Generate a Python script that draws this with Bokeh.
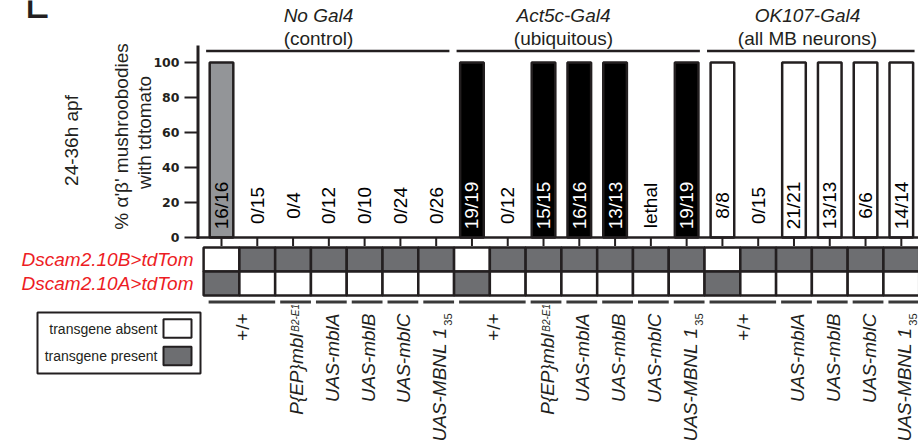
import math
from bokeh.plotting import figure
from bokeh.models import Range1d
from bokeh.core.properties import value
from bokeh.embed import file_html
from bokeh.resources import INLINE

# ---------------- data ----------------
panel_letter = "L"
stage_label = "24-36h apf"
y_title_lines = ["% \u03b1'\u03b2' mushroobodies", "with tdtomato"]
group_titles = ["No Gal4", "Act5c-Gal4", "OK107-Gal4"]
group_subtitles = ["(control)", "(ubiquitous)", "(all MB neurons)"]
group_sizes = [7, 7, 6]
pct_with_tdtomato = [100, 0, 0, 0, 0, 0, 0,
                     100, 0, 100, 100, 100, None, 100,
                     100, 0, 100, 100, 100, 100]
count_labels = ["16/16", "0/15", "0/4", "0/12", "0/10", "0/24", "0/26",
                "19/19", "0/12", "15/15", "16/16", "13/13", "lethal", "19/19",
                "8/8", "0/15", "21/21", "13/13", "6/6", "14/14"]
y_ticks = [0, 20, 40, 60, 80, 100]
reporter_rows = ["Dscam2.10B>tdTom", "Dscam2.10A>tdTom"]
reporter_10B_present = [0, 1, 1, 1, 1, 1, 1, 0, 1, 1, 1, 1, 1, 1, 0, 1, 1, 1, 1, 1]
reporter_10A_present = [1, 0, 0, 0, 0, 0, 0, 1, 0, 0, 0, 0, 0, 0, 1, 0, 0, 0, 0, 0]
genotype_names = ["+/+", "P{EP}mbl", "UAS-mblA", "UAS-mblB", "UAS-mblC", "UAS-MBNL 1",
                  "+/+", "P{EP}mbl", "UAS-mblA", "UAS-mblB", "UAS-mblC", "UAS-MBNL 1",
                  "+/+", "UAS-mblA", "UAS-mblB", "UAS-mblC", "UAS-MBNL 1"]
genotype_superscripts = ["", "B2-E1", "", "", "", "",
                         "", "B2-E1", "", "", "", "",
                         "", "", "", "", ""]
genotype_subscripts = ["", "", "", "", "", "35",
                       "", "", "", "", "", "35",
                       "", "", "", "", "35"]
genotype_first_col = [0, 2, 3, 4, 5, 6, 7, 9, 10, 11, 12, 13, 14, 16, 17, 18, 19]
genotype_last_col = [1, 2, 3, 4, 5, 6, 8, 9, 10, 11, 12, 13, 15, 16, 17, 18, 19]
legend_labels = ["transgene absent", "transgene present"]

# ---------------- layout / style ----------------
FONT = "Liberation Sans"
BLACK = "#231f20"
GROUP_FILL = ["#939598", "#000000", "#ffffff"]
GROUP_TEXT = ["#000000", "#ffffff", "#000000"]
CELL_GRAY = "#6d6e71"
RED = "#ed1c24"
W, H = 918, 445
X0, S = 221.0, 35.78     # pixel of first column, pixels per column
Y0, PPU = 237.0, 1.75    # pixel of value 0, pixels per percent


def cx(px):
    return (px - X0) / S


def vy(py):
    return (Y0 - py) / PPU


p = figure(width=W, height=H, output_backend="svg", toolbar_location=None,
           x_range=Range1d(cx(0), cx(W)),
           y_range=Range1d(vy(H), vy(0)),
           x_axis_type=None, y_axis_type=None, min_border=0,
           outline_line_color=None, background_fill_color="white",
           border_fill_color="white")
p.grid.visible = False

n = len(count_labels)
cols = list(range(n))
grp = []
for gi, sz in enumerate(group_sizes):
    grp += [gi] * sz

# ---- bars ----
bx, btop, bfill = [], [], []
for i in cols:
    v = pct_with_tdtomato[i]
    if v is not None and v > 0:
        bx.append(i)
        btop.append(v)
        bfill.append(GROUP_FILL[grp[i]])
p.vbar(x=bx, top=btop, bottom=0, width=0.66, fill_color=bfill,
       line_color=BLACK, line_width=2.5)

# bar count labels
lab_col = []
for i in cols:
    v = pct_with_tdtomato[i]
    lab_col.append(GROUP_TEXT[grp[i]] if (v is not None and v > 0) else "#000000")
p.text(x=cols, y=[vy(205)] * n, text=count_labels, angle=math.pi / 2,
       text_align="center", text_baseline="middle", text_color=lab_col,
       text_font=value(FONT), text_font_size=value("19px"))

# ---- y axis ----
p.segment(x0=[cx(197.5)], y0=[vy(45)], x1=[cx(197.5)], y1=[vy(238.5)],
          line_color=BLACK, line_width=3)
p.segment(x0=[cx(184)] * len(y_ticks), y0=y_ticks, x1=[cx(197)] * len(y_ticks),
          y1=y_ticks, line_color=BLACK, line_width=2.2)
p.text(x=[cx(179)] * len(y_ticks), y=y_ticks, text=[str(t) for t in y_ticks],
       text_align="right", text_baseline="middle", text_color=BLACK,
       text_font=value("DejaVu Sans"), text_font_style="bold",
       text_font_size=value("12.5px"))

# ---- x baseline + ticks ----
p.segment(x0=[cx(196)], y0=[0], x1=[cx(W + 5)], y1=[0],
          line_color=BLACK, line_width=2.5)
p.segment(x0=cols, y0=[0] * n, x1=cols, y1=[vy(245.5)] * n,
          line_color=BLACK, line_width=2)

# ---- axis titles ----
p.text(x=[cx(120.5), cx(143.5)], y=[vy(136), vy(132)], text=y_title_lines,
       angle=math.pi / 2, text_align="center", text_baseline="middle",
       text_color=BLACK, text_font=value(FONT), text_font_size=value("19px"))
p.text(x=[cx(71)], y=[vy(140)], text=[stage_label], angle=math.pi / 2,
       text_align="center", text_baseline="middle", text_color=BLACK,
       text_font=value(FONT), text_font_size=value("19px"))

# panel letter (mostly cropped at the top edge, as in the source)
p.text(x=[cx(24)], y=[vy(1.5)], text=[panel_letter], text_align="left",
       text_baseline="middle", text_color=BLACK,
       text_font=value(FONT), text_font_size=value("44px"))

# ---- group headers ----
GROUP_TITLE_PX = [318, 563, 807]
starts, ends = [], []
c = 0
for sz in group_sizes:
    starts.append(c)
    ends.append(c + sz - 1)
    c += sz
p.segment(x0=[s - 0.43 for s in starts], y0=[vy(50.5)] * 3,
          x1=[e + 0.37 for e in ends], y1=[vy(50.5)] * 3,
          line_color=BLACK, line_width=2.5)
p.text(x=[cx(v) for v in GROUP_TITLE_PX], y=[vy(14.5)] * 3, text=group_titles,
       text_align="center", text_baseline="middle", text_color=BLACK,
       text_font=value(FONT), text_font_style="italic",
       text_font_size=value("19px"))
p.text(x=[cx(v) for v in GROUP_TITLE_PX], y=[vy(37.5)] * 3, text=group_subtitles,
       text_align="center", text_baseline="middle", text_color=BLACK,
       text_font=value(FONT), text_font_size=value("19px"))

# ---- reporter matrix ----
ROW_Y = [vy(259), vy(283)]
ROW_H = 24 / PPU
mx, my, mfill = [], [], []
for r, pres in enumerate([reporter_10B_present, reporter_10A_present]):
    for i in cols:
        mx.append(i)
        my.append(ROW_Y[r])
        mfill.append(CELL_GRAY if pres[i] else "#ffffff")
p.rect(x=mx, y=my, width=1, height=ROW_H, fill_color=mfill,
       line_color=BLACK, line_width=2.5)
p.text(x=[cx(193)] * 2, y=ROW_Y, text=reporter_rows, text_align="right",
       text_baseline="middle", text_color=RED, text_font=value(FONT),
       text_font_style="italic", text_font_size=value("19px"))

# ---- genotype underline dashes + labels ----
ng = len(genotype_names)
p.segment(x0=[f - 0.36 for f in genotype_first_col], y0=[vy(301.5)] * ng,
          x1=[l + 0.5 for l in genotype_last_col], y1=[vy(301.5)] * ng,
          line_color="#3a3a3a", line_width=3)

off = 3.5 / S
gx = [(f + l) / 2 + off for f, l in zip(genotype_first_col, genotype_last_col)]
main_end = []
for name, sup, sub in zip(genotype_names, genotype_superscripts, genotype_subscripts):
    if sup:
        main_end.append(vy(333))
    elif sub:
        main_end.append(vy(327))
    else:
        main_end.append(vy(313))
styles = ["normal" if nme == "+/+" else "italic" for nme in genotype_names]
plain_idx = [k for k, s_ in enumerate(styles) if s_ == "normal"]
ital_idx = [k for k, s_ in enumerate(styles) if s_ == "italic"]
for idxs, st in ((plain_idx, "normal"), (ital_idx, "italic")):
    p.text(x=[gx[k] for k in idxs], y=[main_end[k] for k in idxs],
           text=[genotype_names[k] for k in idxs], angle=math.pi / 2,
           text_align="right", text_baseline="middle", text_color=BLACK,
           text_font=value(FONT), text_font_style=st,
           text_font_size=value("19px"))

sup_idx = [k for k, s_ in enumerate(genotype_superscripts) if s_]
p.text(x=[gx[k] - 1.0 / S for k in sup_idx], y=[vy(303.5)] * len(sup_idx),
       text=[genotype_superscripts[k] for k in sup_idx], angle=math.pi / 2,
       text_align="right", text_baseline="middle", text_color=BLACK,
       text_font=value(FONT), text_font_style="italic",
       text_font_size=value("10px"))
sub_idx = [k for k, s_ in enumerate(genotype_subscripts) if s_]
p.text(x=[gx[k] + 8.5 / S for k in sub_idx], y=[vy(313)] * len(sub_idx),
       text=[genotype_subscripts[k] for k in sub_idx], angle=math.pi / 2,
       text_align="right", text_baseline="middle", text_color=BLACK,
       text_font=value(FONT), text_font_size=value("11px"))

# ---- legend ----
p.rect(x=[cx(118.5)], y=[vy(342.5)], width=163 / S, height=61 / PPU,
       fill_color="#ffffff", line_color=BLACK, line_width=2)
p.rect(x=[cx(177)] * 2, y=[vy(328), vy(355.5)], width=28 / S, height=18.5 / PPU,
       fill_color=["#ffffff", CELL_GRAY], line_color=BLACK, line_width=2)
p.text(x=[cx(157)] * 2, y=[vy(328), vy(355)], text=legend_labels,
       text_align="right", text_baseline="middle", text_color=BLACK,
       text_font=value(FONT), text_font_size=value("14px"))

open("out.html", "w").write(file_html(p, INLINE))
